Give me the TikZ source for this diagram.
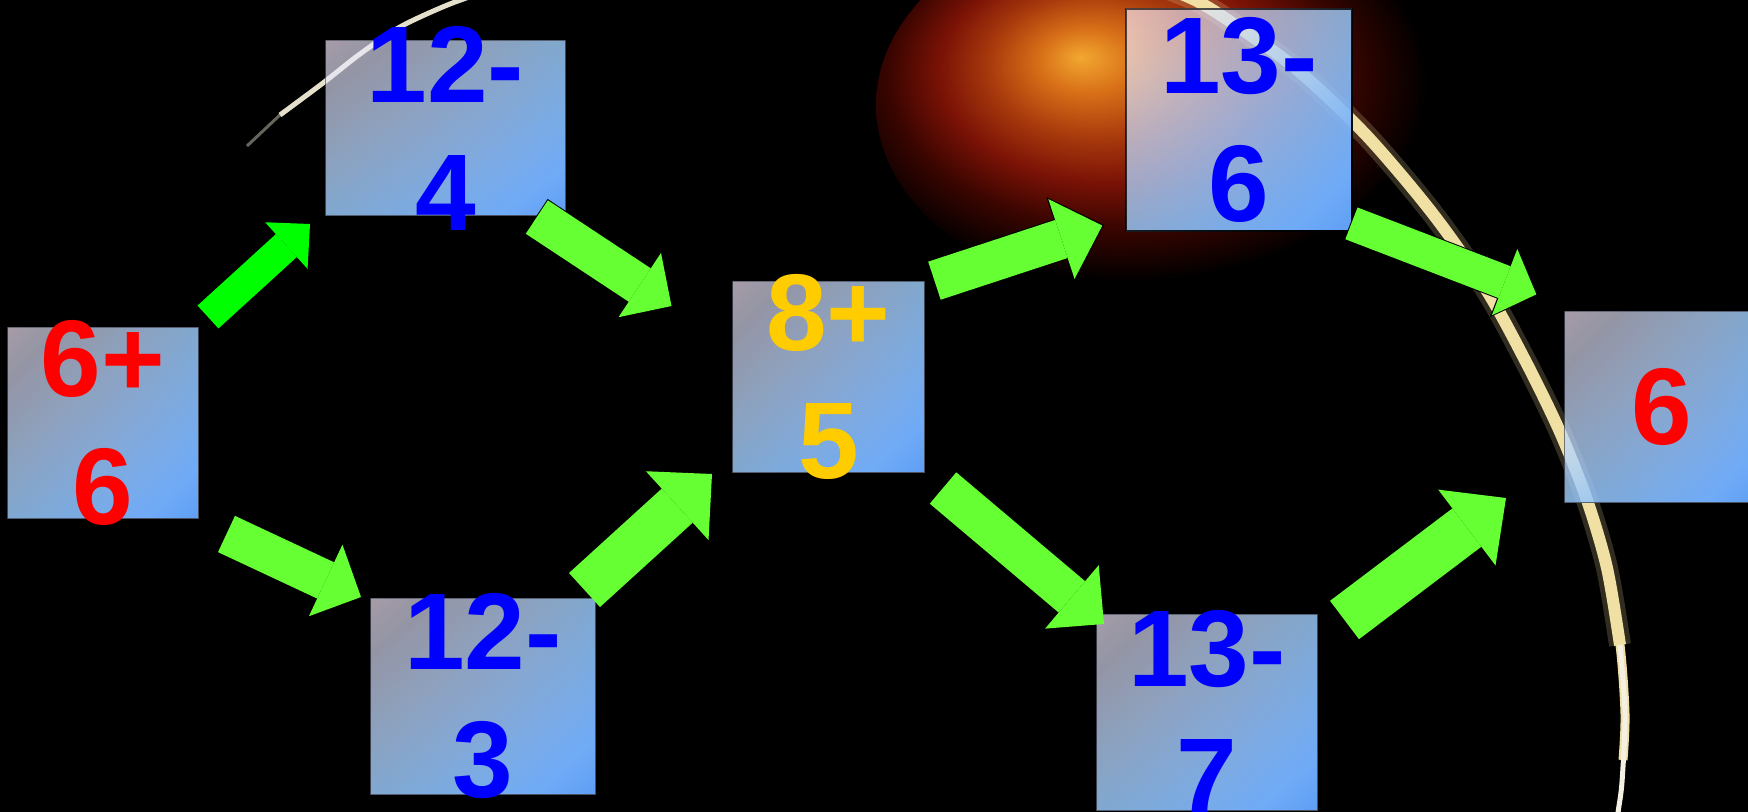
\documentclass[tikz,border=0pt]{standalone}
\usepackage{fontspec}
\setmainfont{Liberation Sans}
\usetikzlibrary{arrows.meta,fadings,shadings}

\definecolor{greenA}{HTML}{00FF00}
\definecolor{greenB}{HTML}{66FF33}
\definecolor{tileblue}{HTML}{5E9EF4}
\definecolor{tilemid}{HTML}{9CCCFC}
\definecolor{tilepale}{HTML}{FFF0FF}
\definecolor{tileedge}{HTML}{4A5060}
\definecolor{numred}{HTML}{FF0000}
\definecolor{numblue}{HTML}{0000FF}
\definecolor{numgold}{HTML}{FFCC00}
\definecolor{limb}{HTML}{F0E0A4}
\definecolor{limbtip}{HTML}{F4F0E4}
\definecolor{limbleft}{HTML}{E4E0CC}
\definecolor{glowa}{HTML}{F2A830}
\definecolor{glowb}{HTML}{D87018}
\definecolor{glowc}{HTML}{A83A0C}
\definecolor{glowd}{HTML}{7A1206}
\definecolor{glowe}{HTML}{3A0500}

\pgfdeclareradialshading{corona}{\pgfpoint{-8bp}{6bp}}{color(0bp)=(glowa); color(4bp)=(glowb); color(9bp)=(glowc); color(14bp)=(glowd); color(19bp)=(glowe); color(25bp)=(black); color(50bp)=(black)}

\tikzfading[name=tilefade, top color=transparent!35, bottom color=transparent!0]

\tikzset{
    tile/.style={shade, upper left=tilepale, upper right=tilemid, lower left=tilemid, lower right=tileblue, path fading=tilefade, fading angle=45, draw=tileedge, line width=0.01cm, inner sep=0pt},
    num/.style={font=\fontsize{31}{36.4}\selectfont\bfseries, align=center, inner sep=0pt},
    barrow/.style n args={3}{line width=#1, -{Triangle[width=#2, length=#3, line width=0pt]}},
}

\begin{document}
\begin{tikzpicture}[x=0.01cm, y=-0.01cm]
    % Background
    \useasboundingbox (0,0) rectangle (1748,812);
    \clip (0,0) rectangle (1748,812);
    \fill[black] (0,0) rectangle (1748,812);
    \shade[shading=corona] (1176,105) ellipse [x radius=300, y radius=200];

    % Limb of the planet
    \draw[limbleft, opacity=0.45, line width=0.03cm] plot[smooth] coordinates {(247,146) (264,130) (282,113)};
    \draw[limbleft, line width=0.05cm] plot[smooth] coordinates {(280,115) (323,83) (360,54) (400,27) (445,6) (483,-8) (520,-22)};
    \draw[limb, opacity=0.2, line width=0.22cm] plot[smooth] coordinates {(1130,-25) (1195,0) (1250,35) (1300,72) (1367,136) (1433,214) (1487,291) (1527,364) (1560,432) (1587,500) (1607,568) (1620,645)};
    \draw[limb, line width=0.12cm] plot[smooth] coordinates {(1130,-25) (1195,0) (1250,35) (1300,72) (1367,136) (1433,214) (1487,291) (1527,364) (1560,432) (1587,500) (1607,568) (1620,645)};
    \draw[limb, line width=0.09cm] plot[smooth] coordinates {(1587,500) (1607,568) (1620,645) (1625,714) (1623,760)};
    \draw[limbtip, line width=0.05cm] plot[smooth] coordinates {(1620,645) (1625,714) (1622,782) (1618,813) (1617,830)};

    % Tiles
    \node[tile, minimum width=1.90cm, minimum height=1.90cm] (sum1) at (103,423) {};
    \node[tile, minimum width=2.39cm, minimum height=1.74cm] (dif1) at (445.5,128) {};
    \node[tile, minimum width=2.24cm, minimum height=1.95cm] (dif2) at (483,696.5) {};
    \node[tile, minimum width=1.91cm, minimum height=1.90cm] (sum2) at (828.5,377) {};
    \node[tile, draw=black, line width=0.02cm, minimum width=2.26cm, minimum height=2.22cm] (dif3) at (1239,120) {};
    \node[tile, minimum width=2.20cm, minimum height=1.95cm] (dif4) at (1207,712.5) {};
    \node[tile, minimum width=1.93cm, minimum height=1.90cm] (res) at (1661.5,407) {};

    % Arrows
    \coordinate (s1) at (208,317);    \coordinate (e1) at (310,224);
    \coordinate (s2) at (536,216.5);  \coordinate (e2) at (673,307);
    \coordinate (s3) at (933.5,281);  \coordinate (e3) at (1104,225);
    \coordinate (s4) at (1350.5,223); \coordinate (e4) at (1538,295);
    \coordinate (s5) at (226.5,534);  \coordinate (e5) at (361,597);
    \coordinate (s6) at (584.5,590);  \coordinate (e6) at (712,474);
    \coordinate (s7) at (943,488);    \coordinate (e7) at (1104,624);
    \coordinate (s8) at (1344.5,620); \coordinate (e8) at (1506,498);

    \draw[greenA, barrow={0.31cm}{0.63cm}{0.32cm}] (s1) -- (e1);
    \draw[black, barrow={0.42cm}{0.82cm}{0.41cm}] (s2) -- (e2);
    \draw[greenB, barrow={0.40cm}{0.77cm}{0.38cm}, shorten <=0.01cm, shorten >=0.018cm] (s2) -- (e2);
    \draw[black, barrow={0.42cm}{0.89cm}{0.46cm}] (s3) -- (e3);
    \draw[greenB, barrow={0.40cm}{0.84cm}{0.43cm}, shorten <=0.01cm, shorten >=0.018cm] (s3) -- (e3);
    \draw[black, barrow={0.36cm}{0.76cm}{0.37cm}] (s4) -- (e4);
    \draw[greenB, barrow={0.34cm}{0.71cm}{0.34cm}, shorten <=0.01cm, shorten >=0.018cm] (s4) -- (e4);
    \draw[greenB, barrow={0.40cm}{0.79cm}{0.39cm}] (s5) -- (e5);
    \draw[greenB, barrow={0.46cm}{0.93cm}{0.47cm}] (s6) -- (e6);
    \draw[greenB, barrow={0.41cm}{0.83cm}{0.42cm}] (s7) -- (e7);
    \draw[greenB, barrow={0.48cm}{0.95cm}{0.49cm}] (s8) -- (e8);

    % Numbers
    \node[num, text=numred] (sum1t) at (sum1) {6+\\6};
    \node[num, text=numblue] (dif1t) at (dif1) {12-\\4};
    \node[num, text=numblue] (dif2t) at (dif2) {12-\\3};
    \node[num, text=numgold] (sum2t) at (sum2) {8+\\5};
    \node[num, text=numblue] (dif3t) at (dif3) {13-\\6};
    \node[num, text=numblue] (dif4t) at (dif4) {13-\\7};
    \node[num, text=numred] (rest) at (res) {6};
\end{tikzpicture}
\end{document}
